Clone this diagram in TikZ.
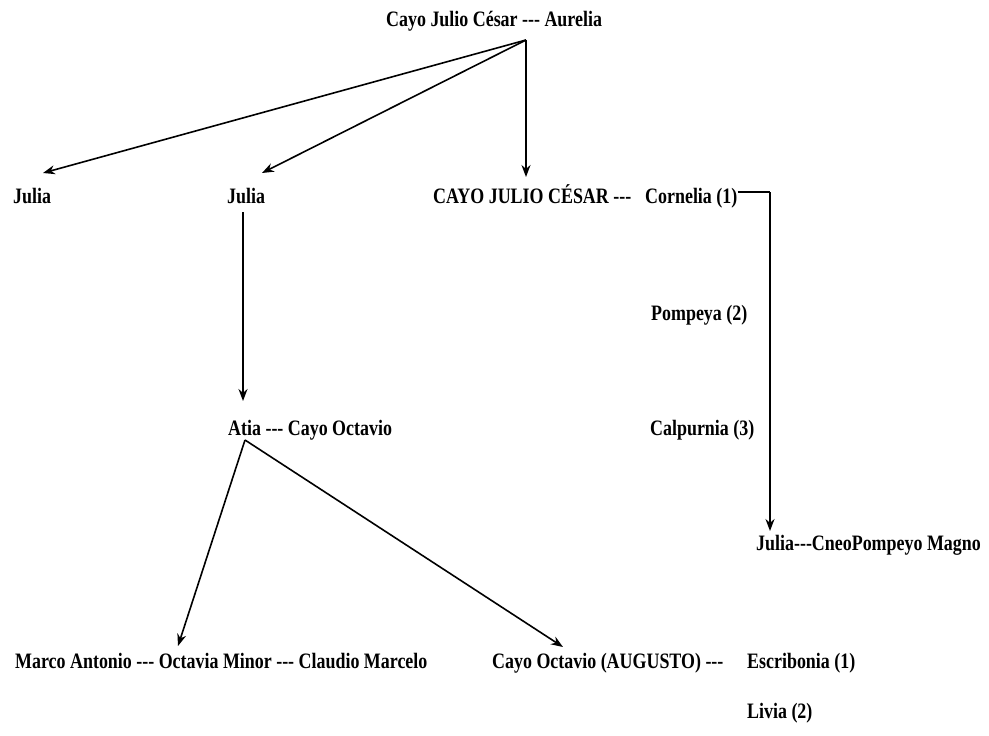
\documentclass[tikz,border=0pt]{standalone}
\usepackage{fontspec}
\setmainfont{Liberation Serif}[FakeStretch=0.815,Ligatures=TeXOff]
\usetikzlibrary{arrows.meta}
\begin{document}
\begin{tikzpicture}[x=1pt,y=-1pt,
  lbl/.style={anchor=base west, inner sep=0pt, font=\fontsize{22}{26}\selectfont\bfseries},
  arr/.style={line width=1.6pt, -{Stealth[length=12pt,width=9pt]}},
  ln/.style={line width=1.6pt}]
\useasboundingbox[fill=white] (0,0) rectangle (989,736);

\node[lbl] (top) at (386,27) {Cayo Julio César --- Aurelia};
\node[lbl] (j1) at (13,203) {Julia};
\node[lbl] (j2) at (227,203) {Julia};
\node[lbl] (cjc) at (433,203) {CAYO JULIO CÉSAR ---};
\node[lbl] (corn) at (645,203) {Cornelia (1)};
\node[lbl] (pom) at (651,320) {Pompeya (2)};
\node[lbl] (cal) at (650,435) {Calpurnia (3)};
\node[lbl] (atia) at (228,435) {Atia --- Cayo Octavio};
\node[lbl] (jcm) at (756,550) {Julia---CneoPompeyo Magno};
\node[lbl] (mar) at (15,668) {Marco Antonio --- Octavia Minor --- Claudio Marcelo};
\node[lbl] (aug) at (492,668) {Cayo Octavio (AUGUSTO) ---};
\node[lbl] (esc) at (747,668) {Escribonia (1)};
\node[lbl] (liv) at (747,718) {Livia (2)};

\coordinate (src) at (526,40);
\coordinate (t1) at (43,173);
\coordinate (t2) at (262,173);
\coordinate (t3) at (526,177);
\coordinate (vb) at (243,212);
\coordinate (vt) at (243,401);
\coordinate (as) at (245,440);
\coordinate (t4) at (178,646);
\coordinate (t5) at (563,647);
\coordinate (bk) at (770,192);
\coordinate (t6) at (770,531);

\draw[arr] (src) -- (t1);
\draw[arr] (src) -- (t2);
\draw[arr] (src) -- (t3);
\draw[arr] (vb) -- (vt);
\draw[arr] (as) -- (t4);
\draw[arr] (as) -- (t5);
\draw[ln] (corn.east |- bk) -- (bk);
\draw[arr] (bk) -- (t6);
\end{tikzpicture}
\end{document}
